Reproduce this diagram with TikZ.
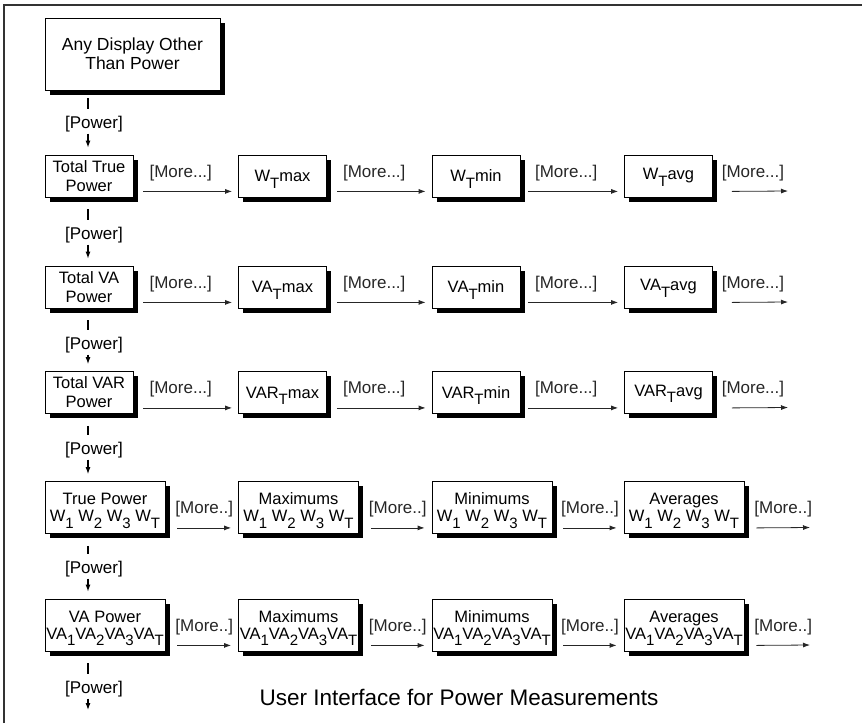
\documentclass[tikz,border=0pt]{standalone}
\usepackage{fontspec}
\setmainfont{Liberation Sans}
\usetikzlibrary{arrows.meta,shadows}
\newcommand{\lowsub}[1]{\raisebox{-6.5pt}[0pt][0pt]{\fontsize{15}{15}\selectfont #1}}

\begin{document}
\begin{tikzpicture}[x=1pt, y=-1pt, font=\fontsize{16.5}{19}\selectfont,
    panel/.style={draw, fill=white, line width=0.8pt, align=center, inner sep=0pt, minimum width=88pt, minimum height=42pt, drop shadow={shadow xshift=4.5pt, shadow yshift=-4.5pt, fill=black, opacity=1}},
    wide/.style={panel, minimum width=120pt, minimum height=52pt, font=\fontsize{16.5}{17}\selectfont},
    more/.style={-{Latex[length=7pt,width=5pt]}, line width=0.8pt, black!85},
    stub/.style={line width=2.2pt, shorten <=12pt, shorten >=6pt},
    down/.style={-{Latex[length=7pt,width=5pt]}, line width=1.1pt, shorten <=2pt, shorten >=7pt},
    lbl/.style={inner sep=0pt, anchor=base, font=\fontsize{17}{19}\selectfont}]
      \useasboundingbox (0,0) rectangle (862,723);
      \draw[line width=1.3pt, black!80] (4,723) -- (4,5) -- (862,5);
      \coordinate (spine) at (88,0);

      \node[panel, minimum width=175pt, minimum height=72pt, font=\fontsize{17.5}{19}\selectfont] (any) at (132.5,54) {Any Display Other\\Than Power};

      % total true power row
      \node[panel] (w0) at (89,176)    {Total True\\Power};
      \node[panel] (w1) at (282.5,176) {W\lowsub{T}max};
      \node[panel] (w2) at (476,176)   {W\lowsub{T}min};
      \node[panel] (w3) at (668.5,176) {W\lowsub{T}avg};
      \coordinate (w4) at (788,191);

      % total va power row
      \node[panel] (va0) at (89,287)    {Total VA\\Power};
      \node[panel] (va1) at (282.5,287) {VA\lowsub{T}max};
      \node[panel] (va2) at (476,287)   {VA\lowsub{T}min};
      \node[panel] (va3) at (668.5,287) {VA\lowsub{T}avg};
      \coordinate (va4) at (788,302);

      % total var power row
      \node[panel] (var0) at (89,392.5)    {Total VAR\\Power};
      \node[panel] (var1) at (282.5,392.5) {VAR\lowsub{T}max};
      \node[panel] (var2) at (476,392.5)   {VAR\lowsub{T}min};
      \node[panel] (var3) at (668.5,392.5) {VAR\lowsub{T}avg};
      \coordinate (var4) at (788,407.5);

      % per phase true power row
      \node[wide] (wp0) at (105,507.5)   {True Power\\W\lowsub{1} W\lowsub{2} W\lowsub{3} W\lowsub{T}};
      \node[wide] (wp1) at (298.5,507.5) {Maximums\\W\lowsub{1} W\lowsub{2} W\lowsub{3} W\lowsub{T}};
      \node[wide] (wp2) at (492,507.5)   {Minimums\\W\lowsub{1} W\lowsub{2} W\lowsub{3} W\lowsub{T}};
      \node[wide] (wp3) at (684,507.5)   {Averages\\W\lowsub{1} W\lowsub{2} W\lowsub{3} W\lowsub{T}};
      \coordinate (wp4) at (810,527.5);

      % per phase va power row
      \node[wide] (vap0) at (105,625)   {VA Power\\VA\lowsub{1}VA\lowsub{2}VA\lowsub{3}VA\lowsub{T}};
      \node[wide] (vap1) at (298.5,625) {Maximums\\VA\lowsub{1}VA\lowsub{2}VA\lowsub{3}VA\lowsub{T}};
      \node[wide] (vap2) at (492,625)   {Minimums\\VA\lowsub{1}VA\lowsub{2}VA\lowsub{3}VA\lowsub{T}};
      \node[wide] (vap3) at (684,625)   {Averages\\VA\lowsub{1}VA\lowsub{2}VA\lowsub{3}VA\lowsub{T}};
      \coordinate (vap4) at (810,645);

      % [More] links
      \draw[more] ([shift={(10,-6)}]w0.south east) -- ([shift={(-6,-6)}]w1.south west) node[midway, lbl, yshift=14pt, xshift=-7pt] {[More...]};
      \draw[more] ([shift={(10,-6)}]w1.south east) -- ([shift={(-6,-6)}]w2.south west) node[midway, lbl, yshift=14pt, xshift=-7pt] {[More...]};
      \draw[more] ([shift={(8,-6)}]w2.south east) -- ([shift={(-6,-6)}]w3.south west) node[midway, lbl, yshift=14pt, xshift=-7pt] {[More...]};
      \draw[more] ([shift={(19,-6)}]w3.south east) -- (w4) node[midway, lbl, yshift=14pt, xshift=-7pt] {[More...]};

      \draw[more] ([shift={(10,-6)}]va0.south east) -- ([shift={(-6,-6)}]va1.south west) node[midway, lbl, yshift=14pt, xshift=-7pt] {[More...]};
      \draw[more] ([shift={(10,-6)}]va1.south east) -- ([shift={(-6,-6)}]va2.south west) node[midway, lbl, yshift=14pt, xshift=-7pt] {[More...]};
      \draw[more] ([shift={(8,-6)}]va2.south east) -- ([shift={(-6,-6)}]va3.south west) node[midway, lbl, yshift=14pt, xshift=-7pt] {[More...]};
      \draw[more] ([shift={(19,-6)}]va3.south east) -- (va4) node[midway, lbl, yshift=14pt, xshift=-7pt] {[More...]};

      \draw[more] ([shift={(10,-6)}]var0.south east) -- ([shift={(-6,-6)}]var1.south west) node[midway, lbl, yshift=14pt, xshift=-7pt] {[More...]};
      \draw[more] ([shift={(10,-6)}]var1.south east) -- ([shift={(-6,-6)}]var2.south west) node[midway, lbl, yshift=14pt, xshift=-7pt] {[More...]};
      \draw[more] ([shift={(8,-6)}]var2.south east) -- ([shift={(-6,-6)}]var3.south west) node[midway, lbl, yshift=14pt, xshift=-7pt] {[More...]};
      \draw[more] ([shift={(19,-6)}]var3.south east) -- (var4) node[midway, lbl, yshift=14pt, xshift=-7pt] {[More...]};

      \draw[more] ([shift={(12,-6)}]wp0.south east) -- ([shift={(-7,-6)}]wp1.south west) node[midway, lbl, yshift=14pt] {[More..]};
      \draw[more] ([shift={(12,-6)}]wp1.south east) -- ([shift={(-7,-6)}]wp2.south west) node[midway, lbl, yshift=14pt] {[More..]};
      \draw[more] ([shift={(11,-6)}]wp2.south east) -- ([shift={(-7,-6)}]wp3.south west) node[midway, lbl, yshift=14pt] {[More..]};
      \draw[more] ([shift={(12,-6)}]wp3.south east) -- (wp4) node[midway, lbl, yshift=14pt] {[More..]};

      \draw[more] ([shift={(12,-6)}]vap0.south east) -- ([shift={(-7,-6)}]vap1.south west) node[midway, lbl, yshift=14pt] {[More..]};
      \draw[more] ([shift={(12,-6)}]vap1.south east) -- ([shift={(-7,-6)}]vap2.south west) node[midway, lbl, yshift=14pt] {[More..]};
      \draw[more] ([shift={(11,-6)}]vap2.south east) -- ([shift={(-7,-6)}]vap3.south west) node[midway, lbl, yshift=14pt] {[More..]};
      \draw[more] ([shift={(12,-6)}]vap3.south east) -- (vap4) node[midway, lbl, yshift=14pt] {[More..]};

      % [Power] links down the left side
      \node[lbl] (p1) at (94,128) {[Power]};
      \node[lbl] (p2) at (94,239) {[Power]};
      \node[lbl] (p3) at (94,349) {[Power]};
      \node[lbl] (p4) at (94,454) {[Power]};
      \node[lbl] (p5) at (94,573) {[Power]};
      \node[lbl] (p6) at (94,693) {[Power]};
      \coordinate (out) at (88,710);

      \draw[stub, shorten <=8pt] (any.south -| spine) -- (p1.north -| spine);
      \draw[down] (p1.south -| spine) -- (w0.north -| spine);
      \draw[stub] (w0.south -| spine) -- (p2.north -| spine);
      \draw[down] (p2.south -| spine) -- (va0.north -| spine);
      \draw[stub] (va0.south -| spine) -- (p3.north -| spine);
      \draw[down] (p3.south -| spine) -- (var0.north -| spine);
      \draw[stub] (var0.south -| spine) -- (p4.north -| spine);
      \draw[down] (p4.south -| spine) -- (wp0.north -| spine);
      \draw[stub] (wp0.south -| spine) -- (p5.north -| spine);
      \draw[down] (p5.south -| spine) -- (vap0.north -| spine);
      \draw[stub] (vap0.south -| spine) -- (p6.north -| spine);
      \draw[down, shorten >=0pt] (p6.south -| spine) -- (out);

      \node[lbl, font=\fontsize{22.5}{26}\selectfont] (title) at (459,705) {User Interface for Power Measurements};
    \end{tikzpicture}
\end{document}
